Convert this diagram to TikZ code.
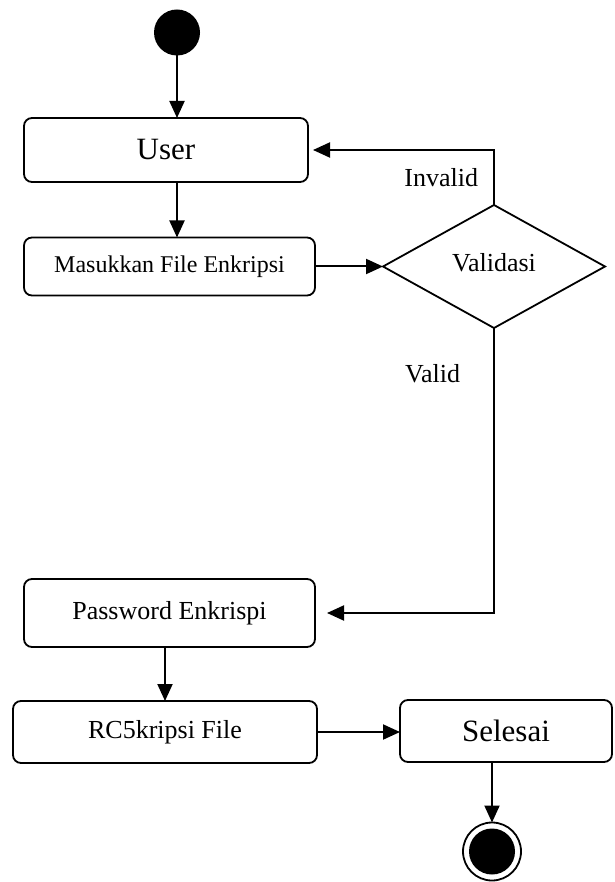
\documentclass[tikz,border=0pt]{standalone}
\usepackage{fontspec}
\setmainfont{Liberation Serif}
\usetikzlibrary{shapes.geometric,arrows.meta,calc}

\begin{document}
\begin{tikzpicture}[x=1pt,y=-1pt,line width=2pt,every node/.style={outer sep=0pt,inner sep=0pt}]
\tikzstyle{activity}=[draw,rounded corners=8pt,line width=1.8pt]
\tikzstyle{flow}=[-{Triangle[length=17pt,width=15pt]}]
\tikzstyle{big}=[font=\fontsize{31}{36}\selectfont]
\tikzstyle{small}=[font=\fontsize{24}{28}\selectfont]
\tikzstyle{mid}=[font=\fontsize{26}{30}\selectfont]

\useasboundingbox (0,0) rectangle (614,882);

\node (start) [circle,fill,minimum size=46pt] at (177,32.5) {};

\node (user) [activity,big,minimum width=284pt,minimum height=64pt] at (166,150) {User};
\node (input) [activity,small,minimum width=291pt,minimum height=58pt] at (169.5,266.5) {Masukkan File Enkripsi};
\node (check) [diamond,draw,line width=1.8pt,mid,minimum width=222pt,minimum height=123pt] at (494,266.5) {\raisebox{8pt}{Validasi}};
\node (pass) [activity,mid,minimum width=291pt,minimum height=68pt] at (169.5,613) {Password Enkrispi};
\node (rc5) [activity,mid,minimum width=304pt,minimum height=62pt] at (165,732) {RC5kripsi File};
\node (done) [activity,big,minimum width=212pt,minimum height=62pt] at (506,731) {Selesai};

\node (end) [circle,draw,line width=1.8pt,minimum size=58pt] at (492,851.5) {};
\fill (end.center) circle (23pt);

\draw [flow] (start.south) -- (start.south |- user.north);
\draw [flow] (user.south -| start) -- (input.north -| start);
\draw [flow] (input.east) -- (check.west);
\draw [flow,shorten >=5pt] (check.north) |- (user.east) node [mid,pos=0.25,anchor=east,xshift=-16pt] (invalid) {Invalid};
\draw [flow,shorten >=12pt] (check.south) |- (pass.east) node [mid,pos=0.08,anchor=east,xshift=-34pt] (valid) {Valid};
\draw [flow] (pass.south -| rc5) -- (rc5.north);
\draw [flow] (rc5.east) -- (rc5.east -| done.west);
\draw [flow] (done.south -| end) -- (end.north);
\end{tikzpicture}
\end{document}
